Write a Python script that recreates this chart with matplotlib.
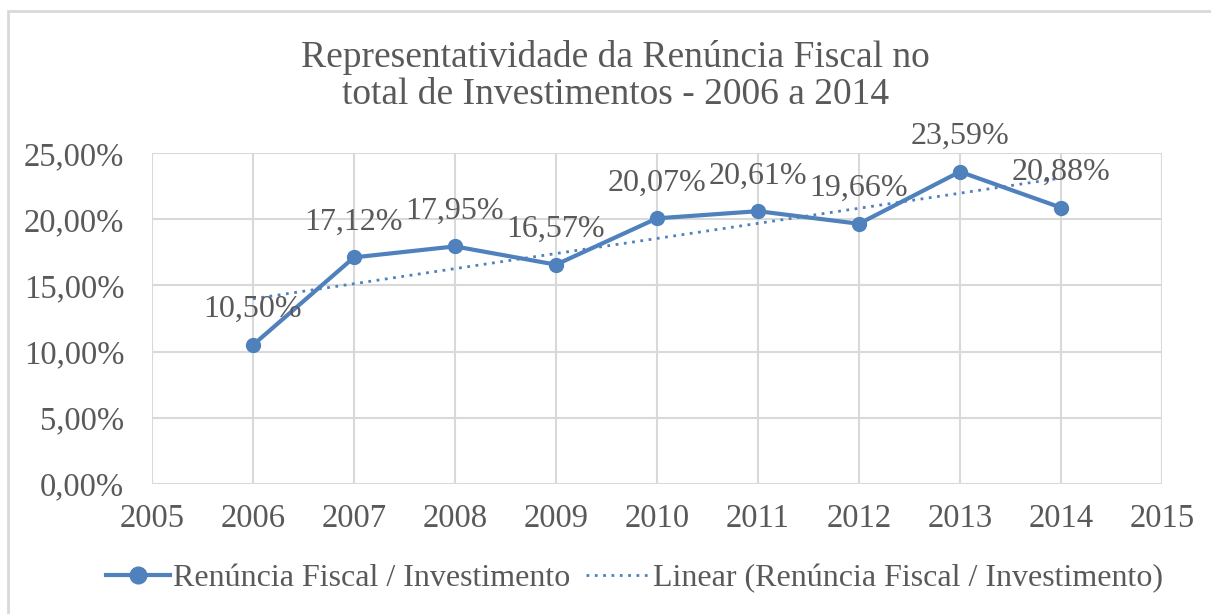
import numpy as np
import matplotlib
matplotlib.use("Agg")
import matplotlib.pyplot as plt
from matplotlib.patches import Rectangle

# Dados
anos = [2006, 2007, 2008, 2009, 2010, 2011, 2012, 2013, 2014]
percentuais = [10.50, 17.12, 17.95, 16.57, 20.07, 20.61, 19.66, 23.59, 20.88]
serie_nome = "Renúncia Fiscal / Investimento"
titulo = "Representatividade da Renúncia Fiscal no\ntotal de Investimentos - 2006 a 2014"

azul = "#4F81BD"
cinza_texto = "#595959"
cinza_grade = "#D9D9D9"

plt.rcParams['font.family'] = ['Liberation Serif', 'DejaVu Serif']

fig = plt.figure(figsize=(12.11, 6.14), dpi=100)
ax = fig.add_axes([0.1255, 0.2117, 0.834, 0.539])

# borda externa (cortada à direita e embaixo)
fig.patches.append(Rectangle((8 / 1211, -0.05), 1.1, 1.05 - 11 / 614,
                             transform=fig.transFigure, fill=False,
                             edgecolor=cinza_grade, linewidth=2))

# linha principal
ax.plot(anos, percentuais, color=azul, linewidth=3, marker='o', markersize=10,
        label=serie_nome, zorder=3)

# tendência linear
coef = np.polyfit(anos, percentuais, 1)
tendencia = np.polyval(coef, anos)
ax.plot(anos, tendencia, color=azul, linewidth=2, linestyle=(0, (1, 2)),
        label="Linear (" + serie_nome + ")", zorder=2)

# rótulos dos dados
for x, y in zip(anos, percentuais):
    ax.annotate(f"{y:.2f}%".replace('.', ','), (x, y), textcoords='offset points',
                xytext=(0, 15), ha='center', va='bottom', fontsize=23, color=cinza_texto)

ax.set_xlim(2005, 2015)
ax.set_ylim(0, 25)
ax.set_xticks(range(2005, 2016))
ax.set_yticks(np.arange(0, 26, 5))
ax.set_yticklabels([f"{v:.2f}%".replace('.', ',') for v in np.arange(0, 26, 5)])
ax.tick_params(axis='both', length=0, labelsize=23.5, labelcolor=cinza_texto)
ax.tick_params(axis='y', pad=20)
ax.tick_params(axis='x', pad=14)

ax.grid(True, color=cinza_grade, linewidth=1.5)
ax.set_axisbelow(True)
for s in ax.spines.values():
    s.set_visible(False)

fig.text(0.508, 0.876, titulo, fontsize=27, color=cinza_texto, ha='center', va='center',
         linespacing=1.1)

fig.legend(loc='center', bbox_to_anchor=(0.524, 0.058), ncol=2, frameon=False,
           fontsize=23, labelcolor=cinza_texto, handlelength=2.0, columnspacing=0.5,
           handletextpad=0.1, markerscale=1.2)

fig.savefig("out.png", dpi=100)
